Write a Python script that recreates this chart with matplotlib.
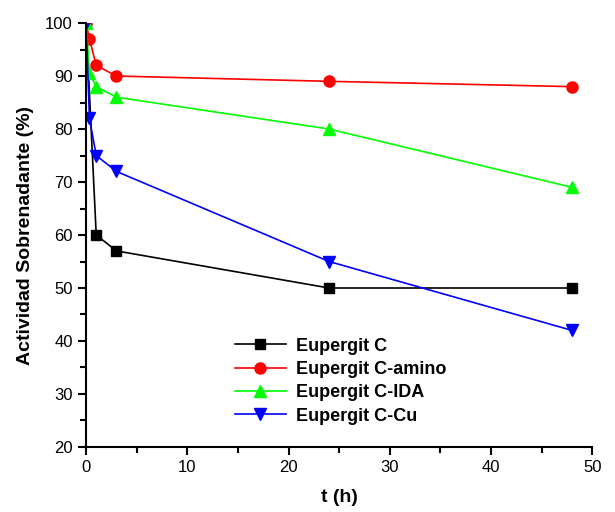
import matplotlib
matplotlib.use('Agg')
import matplotlib.pyplot as plt
from matplotlib.ticker import MultipleLocator

plt.rcParams['font.family'] = ['Liberation Sans', 'DejaVu Sans']

# tiempos (h) y actividad del sobrenadante (%)
t_c = [0, 1, 3, 24, 48]
act_c = [100, 60, 57, 50, 50]

t_amino = [0, 0.33, 1, 3, 24, 48]
act_amino = [100, 97, 92, 90, 89, 88]

t_ida = [0, 0.33, 1, 3, 24, 48]
act_ida = [100, 90.5, 88, 86, 80, 69]

t_cu = [0, 0.33, 1, 3, 24, 48]
act_cu = [100, 82, 75, 72, 55, 42]

labels = ['Eupergit C', 'Eupergit C-amino', 'Eupergit C-IDA', 'Eupergit C-Cu']

fig = plt.figure(figsize=(6.15, 5.12), dpi=100)
ax = fig.add_axes([0.14, 0.127, 0.823, 0.828])

ax.plot(t_c, act_c, color='black', marker='s', markersize=7, lw=1.2, label=labels[0])
ax.plot(t_amino, act_amino, color='red', marker='o', markersize=8, lw=1.2, label=labels[1])
ax.plot(t_ida, act_ida, color='#00ff00', marker='^', markersize=9, lw=1.2, label=labels[2])
ax.plot(t_cu, act_cu, color='blue', marker='v', markersize=9, lw=1.2, label=labels[3])

ax.set_xlim(0, 50)
ax.set_ylim(20, 100)
ax.xaxis.set_major_locator(MultipleLocator(10))
ax.xaxis.set_minor_locator(MultipleLocator(5))
ax.yaxis.set_major_locator(MultipleLocator(10))
ax.yaxis.set_minor_locator(MultipleLocator(5))
ax.tick_params(which='major', direction='out', length=6, width=1.5, labelsize=12)
ax.tick_params(which='minor', direction='out', length=4, width=1.5)

ax.spines['top'].set_visible(False)
ax.spines['right'].set_visible(False)
ax.spines['left'].set_linewidth(1.5)
ax.spines['bottom'].set_linewidth(1.5)

ax.set_xlabel('t (h)', fontsize=14, fontweight='bold', labelpad=10)
ax.set_ylabel('Actividad Sobrenadante (%)', fontsize=14, fontweight='bold', labelpad=8)

leg = ax.legend(loc='upper left', bbox_to_anchor=(0.28, 0.275), frameon=False,
                prop={'weight': 'bold', 'size': 13}, handlelength=2.8,
                labelspacing=0.35, handletextpad=0.6, borderaxespad=0)

fig.savefig('out.png', dpi=100)
